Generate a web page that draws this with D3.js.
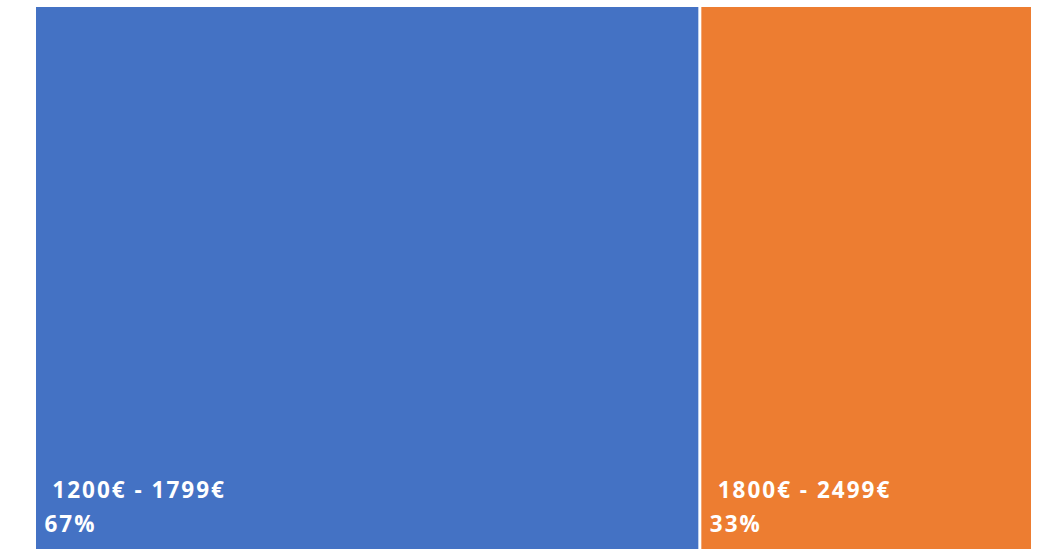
<!DOCTYPE html>
<html>
<head>
<meta charset="utf-8">
<script src="https://cdn.jsdelivr.net/npm/d3@7"></script>
<style>
  html, body { margin: 0; padding: 0; background: #ffffff; }
  svg { display: block; }
</style>
</head>
<body>
<svg id="chart" width="1055" height="549"></svg>
<script>
// Data
const categories = ["1200€ - 1799€", "1800€ - 2499€"];
const values = [2, 1];
const colors = ["#4472C4", "#ED7D31"];

const W = 1055, H = 549;
const svg = d3.select("#chart");

const root = d3.hierarchy({
  children: categories.map((c, i) => ({ name: c, value: values[i], color: colors[i] }))
}).sum(d => d.value || 0);

d3.treemap()
  .tile(d3.treemapDice)
  .size([995, 560])
  .paddingInner(3)
  (root);

const total = d3.sum(values);
const g = svg.append("g").attr("transform", "translate(36,7)");

const leaves = g.selectAll("g.leaf")
  .data(root.leaves())
  .join("g")
  .attr("class", "leaf");

leaves.append("rect")
  .attr("x", d => d.x0)
  .attr("y", d => d.y0)
  .attr("width", d => d.x1 - d.x0)
  .attr("height", d => d.y1 - d.y0)
  .attr("fill", d => d.data.color);

const labelBottom = H - 7; // visible bottom edge in local coordinates

leaves.append("text")
  .attr("x", d => d.x0 + 8.5)
  .attr("y", labelBottom - 51)
  .attr("xml:space", "preserve")
  .style("white-space", "pre")
  .attr("fill", "#ffffff")
  .attr("font-family", "'Open Sans', sans-serif")
  .attr("font-weight", "bold")
  .attr("font-size", 22.5)
  .attr("letter-spacing", 2)
  .text(d => " " + d.data.name);

leaves.append("text")
  .attr("x", d => d.x0 + 8.5)
  .attr("y", labelBottom - 17)
  .attr("fill", "#ffffff")
  .attr("font-family", "'Open Sans', sans-serif")
  .attr("font-weight", "bold")
  .attr("font-size", 22.5)
  .attr("letter-spacing", 2)
  .text(d => d3.format(".0%")(d.data.value / total));
</script>
</body>
</html>
